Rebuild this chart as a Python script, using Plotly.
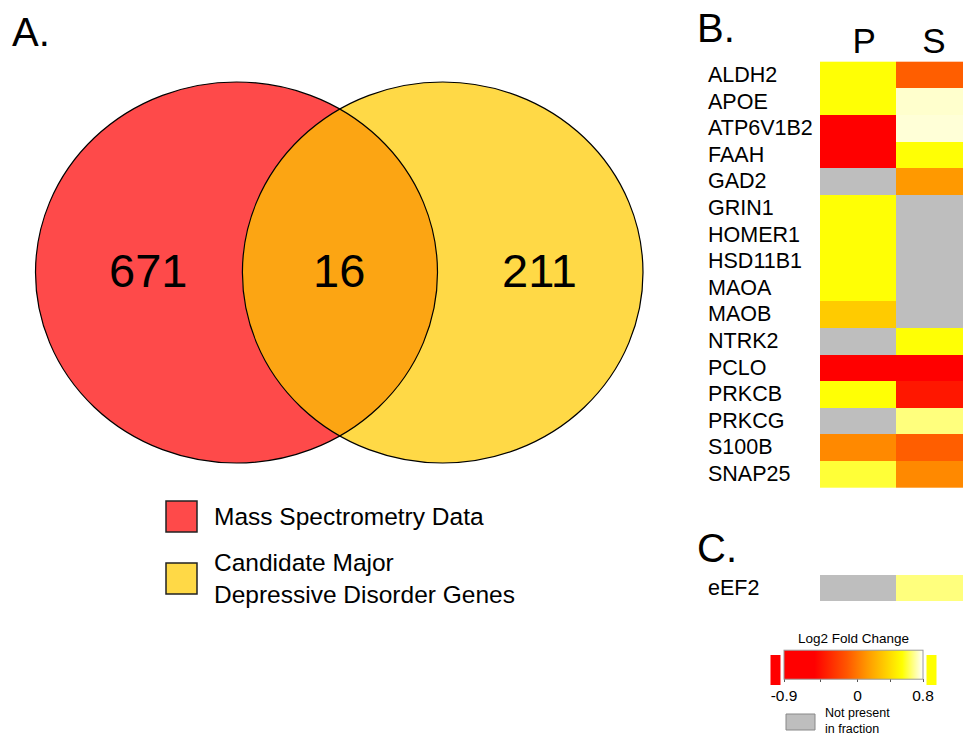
import numpy as np
import plotly.graph_objects as go

W, H = 963, 735
FONT = "Liberation Sans, Arial, sans-serif"

# ---------------- data ----------------
venn_sets = ["Mass Spectrometry Data", "Candidate Major<br>Depressive Disorder Genes"]
venn_only_ms = 671
venn_both = 16
venn_only_mdd = 211

fractions = ["P", "S"]
genes = ["ALDH2", "APOE", "ATP6V1B2", "FAAH", "GAD2", "GRIN1", "HOMER1", "HSD11B1",
         "MAOA", "MAOB", "NTRK2", "PCLO", "PRKCB", "PRKCG", "S100B", "SNAP25"]
log2fc_P = [0.55, 0.55, -0.9, -0.9, None, 0.55, 0.55, 0.55,
            0.55, 0.33, None, -0.88, 0.55, None, 0.06, 0.60]
log2fc_S = [-0.10, 0.75, 0.76, 0.55, 0.12, None, None, None,
            None, None, 0.55, -0.80, -0.42, 0.67, -0.10, 0.06]

c_genes = ["eEF2"]
c_log2fc_P = [None]
c_log2fc_S = [0.67]

cbar_min, cbar_max = -0.9, 0.8
cbar_ticks = [-0.9, -0.45, 0, 0.4, 0.8]
cbar_ticklabels = ["-0.9", "", "0", "", "0.8"]

# ---------------- helpers ----------------
def px_x(p):
    return p / W

def px_y(p):
    return 1 - p / H

def to_matrix(*cols):
    return np.array([[np.nan if v is None else v for v in c] for c in cols], dtype=float).T

zB = to_matrix(log2fc_P, log2fc_S)
zC = to_matrix(c_log2fc_P, c_log2fc_S)
maskB = np.where(np.isnan(zB), 1.0, np.nan)
maskC = np.where(np.isnan(zC), 1.0, np.nan)

GRAY = "#BEBEBE"
colorscale = [[0.0, "#FF0000"], [0.22, "#FF0000"], [0.45, "#FF5500"],
              [0.6, "#FF9900"], [0.85, "#FFFF00"], [1.0, "#FFFFFF"]]

fig = go.Figure()

# ---- heatmap B ----
fig.add_trace(go.Heatmap(z=maskB, x=fractions, y=genes, xaxis="x2", yaxis="y2",
                         colorscale=[[0, GRAY], [1, GRAY]], showscale=False, hoverinfo="skip"))
fig.add_trace(go.Heatmap(z=zB, x=fractions, y=genes, xaxis="x2", yaxis="y2",
                         coloraxis="coloraxis"))
# ---- heatmap C ----
fig.add_trace(go.Heatmap(z=maskC, x=fractions, y=c_genes, xaxis="x3", yaxis="y3",
                         colorscale=[[0, GRAY], [1, GRAY]], showscale=False, hoverinfo="skip"))
fig.add_trace(go.Heatmap(z=zC, x=fractions, y=c_genes, xaxis="x3", yaxis="y3",
                         coloraxis="coloraxis"))

# ---------------- Venn shapes (pixel-space axis) ----------------
L = dict(cx=236.5, cy=272.5, rx=201.0, ry=190.5)
R = dict(cx=442.7, cy=272.5, rx=200.3, ry=190.5)
RED, YEL, ORA = "#FE4A4A", "#FFD946", "#FCA513"

def ell_shape(e, fill, line_w=0):
    return dict(type="circle", xref="x", yref="y",
                x0=e["cx"] - e["rx"], x1=e["cx"] + e["rx"],
                y0=e["cy"] - e["ry"], y1=e["cy"] + e["ry"],
                fillcolor=fill, line=dict(color="black", width=line_w))

shapes = [ell_shape(L, RED), ell_shape(R, YEL)]

def ell_y(e, x, sign):
    t = np.clip(1 - ((x - e["cx"]) / e["rx"]) ** 2, 0, 1)
    return e["cy"] + sign * e["ry"] * np.sqrt(t)

xs = np.linspace(R["cx"] - R["rx"], L["cx"] + L["rx"], 4000)
diff = np.abs(ell_y(L, xs, -1) - ell_y(R, xs, -1))
xi = xs[np.argmin(diff)]
yi_top = ell_y(L, xi, -1)
yi_bot = ell_y(L, xi, 1)
tL = np.linspace(np.arctan2((yi_top - L["cy"]) / L["ry"], (xi - L["cx"]) / L["rx"]),
                 np.arctan2((yi_bot - L["cy"]) / L["ry"], (xi - L["cx"]) / L["rx"]), 120)
tR0 = np.arctan2((yi_bot - R["cy"]) / R["ry"], (xi - R["cx"]) / R["rx"])
tR1 = np.arctan2((yi_top - R["cy"]) / R["ry"], (xi - R["cx"]) / R["rx"])
if tR1 < tR0:
    tR1 += 2 * np.pi
tR = np.linspace(tR0, tR1, 120)
pts = [(L["cx"] + L["rx"] * np.cos(t), L["cy"] + L["ry"] * np.sin(t)) for t in tL]
pts += [(R["cx"] + R["rx"] * np.cos(t), R["cy"] + R["ry"] * np.sin(t)) for t in tR]
path = "M " + " L ".join(f"{x:.2f},{y:.2f}" for x, y in pts) + " Z"
shapes.append(dict(type="path", xref="x", yref="y", path=path, fillcolor=ORA,
                   line=dict(width=0)))
shapes.append(ell_shape(L, "rgba(0,0,0,0)", 1.2))
shapes.append(ell_shape(R, "rgba(0,0,0,0)", 1.2))

# venn legend boxes
shapes.append(dict(type="rect", xref="x", yref="y", x0=166, x1=197, y0=501, y1=532,
                   fillcolor=RED, line=dict(color="#222", width=1.5)))
shapes.append(dict(type="rect", xref="x", yref="y", x0=166, x1=197, y0=563, y1=594,
                   fillcolor=YEL, line=dict(color="#222", width=1.5)))

# colorbar side boxes and "not present" box
shapes.append(dict(type="rect", xref="x", yref="y", x0=770.5, x1=780.5, y0=655, y1=685,
                   fillcolor="#FF0000", line=dict(width=0)))
shapes.append(dict(type="rect", xref="x", yref="y", x0=926.5, x1=936.5, y0=655, y1=685,
                   fillcolor="#FFFF00", line=dict(width=0)))
shapes.append(dict(type="rect", xref="x", yref="y", x0=786, x1=815, y0=714, y1=730,
                   fillcolor=GRAY, line=dict(color="#888", width=1)))

annotations = []

def txt(x, y, s, size, xanchor="center", yanchor="middle", xref="x", yref="y"):
    annotations.append(dict(x=x, y=y, xref=xref, yref=yref, text=s, showarrow=False,
                            xanchor=xanchor, yanchor=yanchor, align="left",
                            font=dict(family=FONT, size=size, color="black")))

# venn counts
txt(148, 270, str(venn_only_ms), 47)
txt(339, 270, str(venn_both), 47)
txt(539, 270, str(venn_only_mdd), 47)
# venn legend
txt(212, 516, venn_sets[0], 24.5, xanchor="left")
txt(212, 578, venn_sets[1], 24.5, xanchor="left")
# panel letters
txt(10, 32, "A.", 40, xanchor="left")
txt(695, 28, "B.", 40, xanchor="left")
txt(695, 548, "C.", 40, xanchor="left")
# gene labels
for g in genes:
    txt(px_x(706), g, g, 21.5, xanchor="left", xref="paper", yref="y2")
for g in c_genes:
    txt(px_x(706), g, g, 21.5, xanchor="left", xref="paper", yref="y3")
# not present text
txt(823, 721, "Not present<br>in fraction", 12.5, xanchor="left")

colw = 76.0
x2_range = [-0.5, -0.5 + (W - 820) / colw]

fig.update_layout(
    width=W, height=H,
    margin=dict(l=0, r=0, t=0, b=0),
    paper_bgcolor="white", plot_bgcolor="rgba(0,0,0,0)",
    showlegend=False,
    font=dict(family=FONT, color="black"),
    xaxis=dict(domain=[0, 1], range=[0, W], visible=False, fixedrange=True),
    yaxis=dict(domain=[0, 1], range=[H, 0], visible=False, fixedrange=True),
    xaxis2=dict(domain=[px_x(820), 1], range=x2_range, anchor="y2", side="top",
                tickvals=[0.08, 1], ticktext=fractions, ticks="", showgrid=False,
                zeroline=False, showline=False,
                tickfont=dict(family=FONT, size=35, color="black")),
    yaxis2=dict(domain=[px_y(488), px_y(61)], anchor="x2", autorange="reversed",
                showticklabels=False, ticks="", showgrid=False, zeroline=False,
                type="category", categoryarray=genes),
    xaxis3=dict(domain=[px_x(820), 1], range=x2_range, anchor="y3", visible=False),
    yaxis3=dict(domain=[px_y(601), px_y(574)], anchor="x3", visible=False,
                type="category"),
    coloraxis=dict(
        colorscale=colorscale, cmin=cbar_min, cmax=cbar_max,
        colorbar=dict(
            orientation="h", x=px_x(853.5), xanchor="center",
            y=px_y(670), yanchor="middle",
            len=139, lenmode="pixels", thickness=29, thicknessmode="pixels",
            xpad=0, ypad=0, outlinecolor="#999999", outlinewidth=1,
            tickmode="array", tickvals=cbar_ticks, ticktext=cbar_ticklabels,
            ticks="outside", ticklen=3, tickcolor="#555",
            tickfont=dict(family=FONT, size=15.5, color="black"),
            title=dict(text="Log2 Fold Change", side="top",
                       font=dict(family=FONT, size=13.5, color="black")),
        ),
    ),
    shapes=shapes,
    annotations=annotations,
)

fig.write_html("out.html", config={"displayModeBar": False},
               post_script="document.body.style.margin='0';document.body.style.overflow='hidden';")
